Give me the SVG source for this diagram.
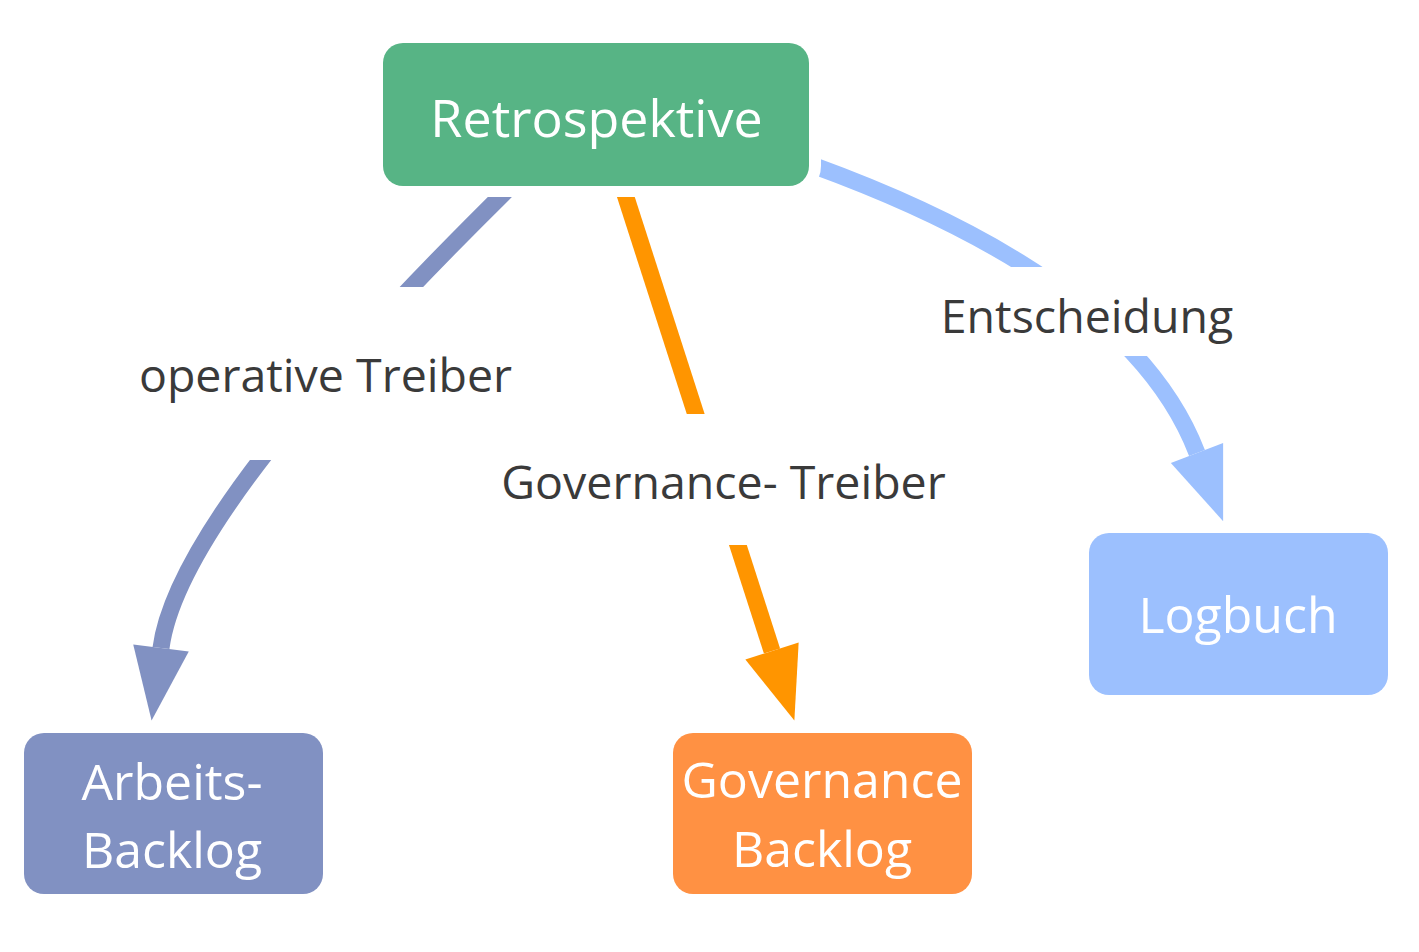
<svg xmlns="http://www.w3.org/2000/svg" width="1419" height="952" viewBox="0 0 1419 952">
  <style>
    .halo { fill: #ffffff; }
    .node-text { font-family: "Open Sans", "Noto Sans", "Liberation Sans", sans-serif; font-size: 50px; fill: #ffffff; text-anchor: middle; }
    .node-text.big { font-size: 52px; }
    .edge { fill: none; stroke-width: 17; stroke-linecap: butt; }
    .label-bg { fill: #ffffff; }
    .label { font-family: "Open Sans", "Noto Sans", "Liberation Sans", sans-serif; font-size: 46.5px; fill: #3a3a3a; text-anchor: middle; }
  </style>
  <defs>
    <marker id="arrow-op" markerUnits="userSpaceOnUse" viewBox="0 -30 80 60" markerWidth="80" markerHeight="60" refX="0" refY="0" orient="auto" overflow="visible">
      <path d="M0,-28 L73,0 L0,28 Z" fill="#8191c2"/>
    </marker>
    <marker id="arrow-gov" markerUnits="userSpaceOnUse" viewBox="0 -30 80 60" markerWidth="80" markerHeight="60" refX="0" refY="0" orient="auto" overflow="visible">
      <path d="M0,-28 L73,0 L0,28 Z" fill="#ff9500"/>
    </marker>
    <marker id="arrow-ent" markerUnits="userSpaceOnUse" viewBox="0 -30 80 60" markerWidth="80" markerHeight="60" refX="0" refY="0" orient="auto" overflow="visible">
      <path d="M0,-28 L73,0 L0,28 Z" fill="#9cc0fe"/>
    </marker>
  </defs>
  <rect width="1419" height="952" fill="#ffffff"/>

  <g id="connectors">
    <path class="edge" d="M512,185 C380,315 177,525 161,648" stroke="#8191c2" marker-end="url(#arrow-op)"/>
    <path class="edge" d="M622,185 L772,651" stroke="#ff9500" marker-end="url(#arrow-gov)"/>
    <path class="edge" d="M812,165 Q1131,281 1197,453" stroke="#9cc0fe" marker-end="url(#arrow-ent)"/>
  </g>

  <g id="edge-labels">
    <g id="label-operative">
      <rect class="label-bg" x="130" y="287" width="390" height="173"/>
      <text class="label" x="325.5" y="392">operative Treiber</text>
    </g>
    <g id="label-governance">
      <rect class="label-bg" x="495" y="414" width="457" height="131"/>
      <text class="label" x="723.5" y="499">Governance- Treiber</text>
    </g>
    <g id="label-entscheidung">
      <rect class="label-bg" x="932" y="267" width="310" height="89"/>
      <text class="label" x="1087" y="333">Entscheidung</text>
    </g>
  </g>

  <g id="node-retrospektive">
    <rect class="halo" x="371" y="31" width="450" height="166" rx="31"/>
    <rect x="383" y="43" width="426" height="143" rx="20" fill="#57b485"/>
    <text class="node-text big" x="596.5" y="137">Retrospektive</text>
  </g>

  <g id="node-arbeits-backlog">
    <rect class="halo" x="12" y="721" width="323" height="185" rx="31"/>
    <rect x="24" y="733" width="299" height="161" rx="20" fill="#8191c2"/>
    <text class="node-text" x="172" y="800">Arbeits-</text>
    <text class="node-text" x="172" y="868">Backlog</text>
  </g>

  <g id="node-governance-backlog">
    <rect class="halo" x="661" y="721" width="323" height="185" rx="31"/>
    <rect x="673" y="733" width="299" height="161" rx="20" fill="#ff9143"/>
    <text class="node-text" x="822" y="798">Governance</text>
    <text class="node-text" x="822" y="867">Backlog</text>
  </g>

  <g id="node-logbuch">
    <rect class="halo" x="1077" y="521" width="323" height="186" rx="31"/>
    <rect x="1089" y="533" width="299" height="162" rx="20" fill="#9cc0fe"/>
    <text class="node-text" x="1238" y="633">Logbuch</text>
  </g>
</svg>
